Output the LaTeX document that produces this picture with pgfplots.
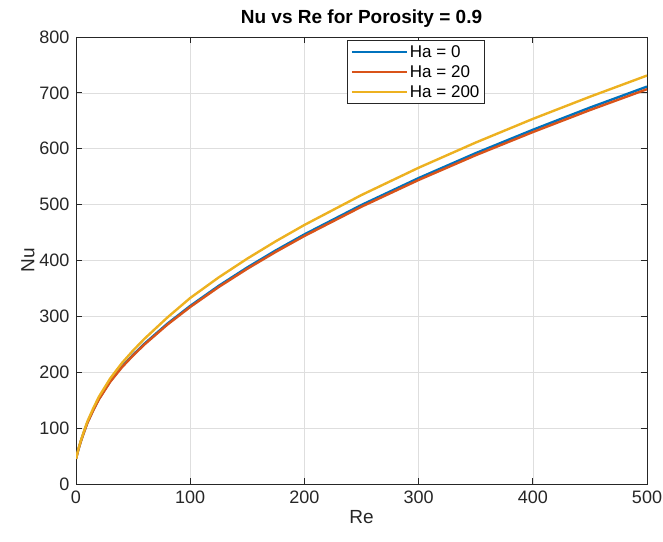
\documentclass[border=0pt]{standalone}
\usepackage{fontspec}
\setmainfont{Liberation Sans}
\usepackage{pgfplots}
\pgfplotsset{compat=1.18}
\definecolor{mblue}{rgb}{0,0.447,0.741}
\definecolor{mred}{rgb}{0.850,0.325,0.098}
\definecolor{myellow}{rgb}{0.929,0.694,0.125}
\definecolor{axgray}{rgb}{0.15,0.15,0.15}
\begin{document}
\begin{tikzpicture}
\begin{axis}[
  scale only axis, width=571pt, height=447pt,
  xmin=0, xmax=500, ymin=0, ymax=800,
  xtick={0,100,...,500}, ytick={0,100,...,800},
  tick align=inside, major tick length=6pt,
  grid=major, grid style={black!13, line width=0.6pt},
  axis line style={axgray, line width=0.8pt},
  tick style={axgray, line width=0.8pt},
  ticklabel style={font=\fontsize{18}{20}\selectfont, text=axgray},
  yticklabel style={xshift=-3pt},
  xticklabel style={yshift=-3pt},
  /pgf/number format/assume math mode=true,
  xlabel={Re}, ylabel={Nu},
  label style={font=\fontsize{19}{21}\selectfont, text=axgray},
  ylabel style={yshift=-2pt},
  title={Nu vs Re for Porosity = 0.9},
  title style={font=\bfseries\fontsize{19}{21}\selectfont},
  legend style={at={(0.716,0.993)}, anchor=north east,
    font=\fontsize{17}{19}\selectfont, draw=axgray, line width=0.8pt,
    inner sep=3pt, row sep=2.5pt},
  legend cell align=left,
  legend image code/.code={\draw[#1, line width=2.2pt] (0pt,0pt) -- (55pt,0pt);},
]
\addplot[mblue, line width=2.4pt] coordinates {
(0,45) (1,53) (2,61) (4,75) (7,93) (10,110) (15,132) (20,152)
(30,184) (40,209.6) (50,231.3) (60,251.2) (80,286.9) (100,318.7) (125,354.7)
(150,387.6) (175,418.1) (200,446.7) (250,499.4) (300,547.5) (350,592.1)
(400,633.9) (450,673.6) (500,711.2)};
\addlegendentry{Ha = 0}
\addplot[mred, line width=2.4pt] coordinates {
(0,45) (1,53) (2,61) (4,74.8) (7,92.6) (10,109.5) (15,131.4) (20,151.3)
(30,183.0) (40,208.4) (50,230.0) (60,249.8) (80,285.2) (100,316.8) (125,352.6)
(150,385.2) (175,415.5) (200,443.9) (250,496.3) (300,544.1) (350,588.4)
(400,629.8) (450,669.2) (500,706.6)};
\addlegendentry{Ha = 20}
\addplot[myellow, line width=2.4pt] coordinates {
(0,45) (1,53.5) (2,61.8) (4,76) (7,94.5) (10,112) (15,135) (20,156)
(30,189.0) (40,216.0) (50,239.0) (60,260.0) (80,298.0) (100,332.9) (125,369.8)
(150,403.4) (175,434.5) (200,463.6) (250,517.2) (300,566.0) (350,611.1)
(400,653.4) (450,693.1) (500,731.0)};
\addlegendentry{Ha = 200}
\coordinate (bl) at (rel axis cs:0,0);
\coordinate (tr) at (rel axis cs:1,1);
\end{axis}
\pgfresetboundingbox
\path ([shift={(-76pt,-57pt)}]bl) rectangle ([shift={(16pt,37pt)}]tr);
\end{tikzpicture}
\end{document}
